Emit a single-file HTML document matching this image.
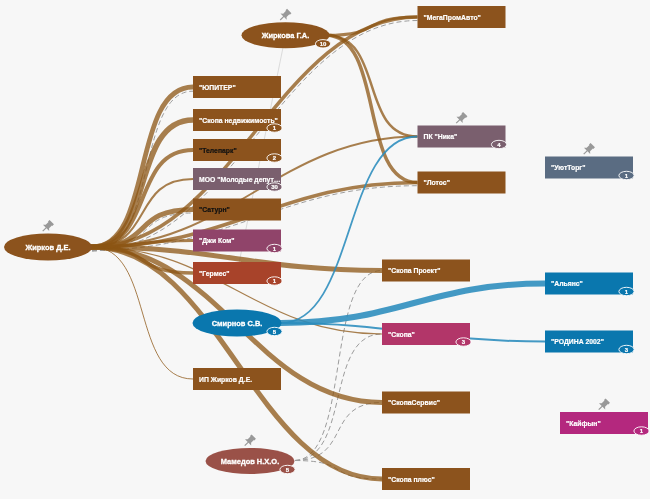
<!DOCTYPE html><html><head><meta charset="utf-8"><style>
html,body{margin:0;padding:0;background:#f7f7f7;width:650px;height:499px;overflow:hidden}
svg{display:block;will-change:transform}
text{font-family:"Liberation Sans", sans-serif;font-weight:bold;fill:#fff;stroke:#fff;stroke-width:0.2px}
</style></head><body>
<svg width="650" height="499" viewBox="0 0 650 499">
<rect width="650" height="499" fill="#f7f7f7"/>
<path d="M285.5 35.3L237 273" stroke="#cfcfcf" stroke-width="0.7" fill="none"/>
<g fill="none" stroke="#9c9c9c" stroke-width="1" stroke-dasharray="5,3">
<path d="M287.00 460.50L294.00 460.50C351.92 460.50 324.08 270.50 382.00 270.50"/>
<path d="M287.00 460.50L294.00 460.50C351.92 460.50 324.08 334.00 382.00 334.00"/>
<path d="M287.00 460.50L294.00 460.50C351.92 460.50 324.08 402.50 382.00 402.50"/>
<path d="M287.00 460.50L294.00 460.50C351.92 460.50 324.08 479.00 382.00 479.00"/>
<path d="M92.01 251.20 L94.57 251.12 L97.08 250.87 L99.51 250.46 L101.86 249.88 L104.14 249.16 L106.34 248.28 L108.46 247.26 L110.49 246.10 L112.44 244.81 L114.31 243.40 L116.10 241.87 L117.81 240.24 L119.45 238.50 L121.01 236.66 L122.50 234.74 L123.93 232.72 L125.30 230.63 L126.61 228.45 L127.86 226.20 L129.07 223.88 L130.23 221.50 L131.34 219.04 L132.41 216.53 L133.44 213.97 L134.43 211.35 L135.39 208.67 L136.32 205.96 L137.22 203.20 L138.10 200.39 L138.95 197.56 L139.77 194.69 L140.58 191.79 L141.37 188.87 L142.14 185.92 L142.90 182.96 L143.65 179.98 L144.39 176.99 L145.13 173.99 L145.86 170.99 L146.58 167.99 L147.31 164.99 L148.03 162.00 L148.76 159.02 L149.50 156.06 L150.24 153.11 L150.99 150.19 L151.75 147.29 L152.52 144.43 L153.31 141.60 L154.11 138.81 L154.94 136.06 L155.78 133.36 L156.65 130.70 L157.53 128.10 L158.45 125.56 L159.39 123.09 L160.36 120.68 L161.35 118.33 L162.38 116.07 L163.44 113.88 L164.53 111.78 L165.66 109.76 L166.82 107.83 L168.02 106.00 L169.25 104.27 L170.51 102.63 L171.82 101.10 L173.16 99.68 L174.53 98.36 L175.95 97.15 L177.41 96.05 L178.91 95.06 L180.45 94.18 L182.05 93.41 L183.70 92.75 L185.41 92.20 L187.19 91.77 L189.04 91.46 L190.98 91.27 L193.01 91.20"/>
<path d="M92.00 250.50 L94.35 250.48 L96.63 250.43 L98.83 250.34 L100.96 250.22 L103.02 250.07 L105.01 249.88 L106.93 249.66 L108.79 249.41 L110.59 249.14 L112.33 248.83 L114.01 248.49 L115.63 248.13 L117.20 247.74 L118.72 247.32 L120.18 246.88 L121.60 246.41 L122.97 245.92 L124.29 245.40 L125.56 244.87 L126.80 244.31 L127.99 243.74 L129.14 243.14 L130.25 242.53 L131.33 241.90 L132.37 241.26 L133.38 240.60 L134.35 239.93 L135.29 239.25 L136.21 238.57 L137.10 237.87 L137.96 237.17 L138.80 236.46 L139.62 235.75 L140.42 235.03 L141.21 234.32 L141.98 233.60 L142.73 232.89 L143.47 232.18 L144.21 231.47 L144.94 230.76 L145.66 230.06 L146.38 229.37 L147.10 228.68 L147.82 228.00 L148.54 227.32 L149.27 226.66 L150.00 226.01 L150.75 225.36 L151.50 224.72 L152.27 224.10 L153.05 223.49 L153.85 222.89 L154.67 222.30 L155.52 221.72 L156.38 221.15 L157.28 220.60 L158.20 220.06 L159.15 219.54 L160.14 219.03 L161.17 218.53 L162.23 218.05 L163.34 217.59 L164.49 217.14 L165.68 216.71 L166.93 216.30 L168.22 215.91 L169.57 215.53 L170.98 215.18 L172.44 214.86 L173.97 214.55 L175.55 214.27 L177.21 214.01 L178.92 213.78 L180.71 213.58 L182.57 213.41 L184.50 213.26 L186.51 213.15 L188.59 213.07 L190.76 213.02 L193.00 213.00"/>
<path d="M92.01 250.50 L97.30 250.39 L102.52 250.06 L107.66 249.53 L112.72 248.78 L117.70 247.84 L122.61 246.71 L127.44 245.38 L132.19 243.88 L136.87 242.19 L141.48 240.34 L146.02 238.32 L150.49 236.15 L154.89 233.82 L159.24 231.35 L163.52 228.73 L167.74 225.99 L171.90 223.11 L176.02 220.11 L180.08 216.99 L184.09 213.76 L188.05 210.43 L191.97 206.99 L195.84 203.46 L199.68 199.85 L203.47 196.14 L207.24 192.36 L210.96 188.51 L214.66 184.58 L218.33 180.60 L221.98 176.56 L225.60 172.46 L229.19 168.33 L232.77 164.15 L236.34 159.93 L239.88 155.69 L243.42 151.42 L246.94 147.13 L250.45 142.83 L253.96 138.52 L257.47 134.21 L260.97 129.90 L264.47 125.59 L267.98 121.30 L271.49 117.03 L275.00 112.79 L278.52 108.57 L282.06 104.39 L285.61 100.25 L289.17 96.15 L292.75 92.10 L296.34 88.12 L299.96 84.19 L303.60 80.33 L307.26 76.54 L310.95 72.83 L314.67 69.21 L318.42 65.67 L322.20 62.22 L326.01 58.88 L329.86 55.64 L333.75 52.51 L337.68 49.49 L341.65 46.60 L345.66 43.83 L349.72 41.19 L353.82 38.68 L357.98 36.31 L362.18 34.09 L366.44 32.02 L370.75 30.11 L375.12 28.35 L379.55 26.76 L384.05 25.33 L388.61 24.08 L393.24 23.01 L397.94 22.12 L402.71 21.42 L407.56 20.91 L412.49 20.60 L417.51 20.50"/>
<path d="M92.00 250.20 L97.20 250.17 L102.31 250.08 L107.34 249.93 L112.29 249.73 L117.17 249.47 L121.98 249.16 L126.71 248.79 L131.37 248.38 L135.96 247.92 L140.49 247.41 L144.95 246.85 L149.35 246.25 L153.70 245.61 L157.98 244.92 L162.21 244.20 L166.38 243.44 L170.50 242.64 L174.58 241.81 L178.60 240.94 L182.58 240.04 L186.52 239.11 L190.41 238.15 L194.27 237.17 L198.08 236.16 L201.87 235.12 L205.62 234.07 L209.34 232.99 L213.02 231.89 L216.69 230.78 L220.32 229.64 L223.94 228.50 L227.53 227.34 L231.11 226.17 L234.67 224.99 L238.21 223.80 L241.75 222.60 L245.27 221.40 L248.78 220.19 L252.29 218.98 L255.79 217.77 L259.30 216.57 L262.80 215.36 L266.31 214.16 L269.82 212.96 L273.33 211.77 L276.86 210.58 L280.39 209.41 L283.94 208.25 L287.51 207.10 L291.09 205.96 L294.70 204.84 L298.32 203.74 L301.97 202.65 L305.64 201.59 L309.35 200.54 L313.08 199.52 L316.84 198.53 L320.65 197.55 L324.48 196.61 L328.36 195.70 L332.28 194.81 L336.24 193.96 L340.25 193.14 L344.30 192.35 L348.41 191.60 L352.57 190.89 L356.78 190.22 L361.05 189.59 L365.38 189.00 L369.77 188.45 L374.22 187.95 L378.74 187.49 L383.32 187.08 L387.98 186.73 L392.70 186.42 L397.51 186.16 L402.38 185.96 L407.34 185.82 L412.38 185.73 L417.50 185.70"/>
</g>
<g fill="none" stroke="#8c5514" stroke-opacity="0.75">
<path d="M85.00 247.00L92.00 247.00C154.34 247.00 130.66 87.00 193.00 87.00" stroke-width="4.8"/>
<path d="M85.00 247.00L92.00 247.00C154.34 247.00 130.66 120.00 193.00 120.00" stroke-width="5.6"/>
<path d="M85.00 247.00L92.00 247.00C154.34 247.00 130.66 150.00 193.00 150.00" stroke-width="4"/>
<path d="M85.00 247.00L92.00 247.00C154.34 247.00 130.66 179.00 193.00 179.00" stroke-width="2"/>
<path d="M85.00 247.00L92.00 247.00C154.34 247.00 130.66 209.50 193.00 209.50" stroke-width="5"/>
<path d="M85.00 247.00L92.00 247.00C154.34 247.00 130.66 240.50 193.00 240.50" stroke-width="3"/>
<path d="M85.00 247.00L92.00 247.00C154.34 247.00 130.66 273.00 193.00 273.00" stroke-width="3.5"/>
<path d="M85.00 247.00L92.00 247.00C154.34 247.00 130.66 379.00 193.00 379.00" stroke-width="1"/>
<path d="M85.00 247.00L92.00 247.00C218.60 247.00 255.40 270.50 382.00 270.50" stroke-width="5"/>
<path d="M85.00 247.00L92.00 247.00C218.60 247.00 255.40 402.50 382.00 402.50" stroke-width="5"/>
<path d="M85.00 247.00L92.00 247.00C218.60 247.00 255.40 479.00 382.00 479.00" stroke-width="5"/>
<path d="M85.00 247.00L92.00 247.00C230.67 247.00 278.83 182.50 417.50 182.50" stroke-width="3.5"/>
<path d="M85.00 247.00L92.00 247.00C230.67 247.00 278.83 17.00 417.50 17.00" stroke-width="3.5"/>
<path d="M85.00 247.00L92.00 247.00C230.67 247.00 278.83 136.50 417.50 136.50" stroke-width="2"/>
<path d="M85.00 247.00L92.00 247.00C218.60 247.00 255.40 334.00 382.00 334.00" stroke-width="1.2"/>
<path d="M319.00 35.30L326.00 35.30C385.11 35.30 358.39 17.00 417.50 17.00" stroke-width="3"/>
<path d="M319.00 35.30L326.00 35.30C385.11 35.30 358.39 136.50 417.50 136.50" stroke-width="2.5"/>
<path d="M319.00 35.30L326.00 35.30C385.11 35.30 358.39 182.50 417.50 182.50" stroke-width="3.5"/>
</g>
<g fill="none" stroke="#2a8cbd" stroke-opacity="0.88">
<path d="M274.00 323.00L281.00 323.00C398.76 323.00 427.24 283.50 545.00 283.50" stroke-width="6"/>
<path d="M274.00 323.00L281.00 323.00C355.41 323.00 343.09 136.50 417.50 136.50" stroke-width="1.8"/>
<path d="M274.00 323.00L281.00 323.00C398.76 323.00 427.24 341.50 545.00 341.50" stroke-width="2"/>
</g>
<ellipse cx="48" cy="247" rx="44" ry="13.5" fill="#8c531d"/>
<text transform="translate(48 249.8) scale(0.97 1)" font-size="7.7" text-anchor="middle" style="stroke-width:0.3px">Жирков Д.Е.</text>
<ellipse cx="285.5" cy="35.3" rx="44" ry="13" fill="#8c531d"/>
<text transform="translate(285.5 38.099999999999994) scale(0.97 1)" font-size="7.7" text-anchor="middle" style="stroke-width:0.3px">Жиркова Г.А.</text>
<ellipse cx="323.0" cy="43.8" rx="7.6" ry="4.2" fill="#8c531d" stroke="#fff" stroke-width="0.9"/><text x="323.0" y="46.0" font-size="6" text-anchor="middle">10</text>
<ellipse cx="237" cy="323" rx="44.5" ry="13.5" fill="#0a77ae"/>
<text transform="translate(237 325.8) scale(0.97 1)" font-size="7.7" text-anchor="middle" style="stroke-width:0.3px">Смирнов С.В.</text>
<ellipse cx="274.5" cy="331.5" rx="7.6" ry="4.2" fill="#0a77ae" stroke="#fff" stroke-width="0.9"/><text x="274.5" y="333.7" font-size="6" text-anchor="middle">5</text>
<ellipse cx="250" cy="461" rx="44.5" ry="13" fill="#9a5148"/>
<text transform="translate(250 463.8) scale(0.97 1)" font-size="7.7" text-anchor="middle" style="stroke-width:0.3px">Мамедов Н.Х.О.</text>
<ellipse cx="287.5" cy="469.5" rx="7.6" ry="4.2" fill="#9a5148" stroke="#fff" stroke-width="0.9"/><text x="287.5" y="471.7" font-size="6" text-anchor="middle">5</text>
<rect x="417.5" y="6" width="88" height="22" fill="#8c531d"/>
<text transform="translate(423.5 19.8) scale(0.97 1)" font-size="7.05">"МегаПромАвто"</text>
<rect x="193" y="76" width="88" height="22" fill="#8c531d"/>
<text transform="translate(199 89.8) scale(0.97 1)" font-size="7.05">"ЮПИТЕР"</text>
<rect x="193" y="109" width="88" height="22" fill="#8c531d"/>
<text transform="translate(199 122.8) scale(0.97 1)" font-size="7.05">"Скопа недвижимость"</text>
<ellipse cx="274.5" cy="128" rx="7.6" ry="4.2" fill="#8c531d" stroke="#fff" stroke-width="0.9"/><text x="274.5" y="130.2" font-size="6" text-anchor="middle">1</text>
<rect x="193" y="139" width="88" height="22" fill="#8c531d"/>
<text transform="translate(199 152.8) scale(0.97 1)" font-size="7.05" style="fill:#111;stroke:#111">"Телепарк"</text>
<ellipse cx="274.5" cy="158" rx="7.6" ry="4.2" fill="#8c531d" stroke="#fff" stroke-width="0.9"/><text x="274.5" y="160.2" font-size="6" text-anchor="middle">2</text>
<rect x="193" y="168" width="88" height="22" fill="#7a5f6e"/>
<text transform="translate(199 181.8) scale(0.97 1)" font-size="7.05">МОО "Молодые депут…</text>
<ellipse cx="274.5" cy="187" rx="7.6" ry="4.2" fill="#7a5f6e" stroke="#fff" stroke-width="0.9"/><text x="274.5" y="189.2" font-size="6" text-anchor="middle">30</text>
<rect x="193" y="198.5" width="88" height="22" fill="#8c531d"/>
<text transform="translate(199 212.3) scale(0.97 1)" font-size="7.05" style="fill:#111;stroke:#111">"Сатурн"</text>
<rect x="193" y="229.5" width="88" height="22" fill="#90446a"/>
<text transform="translate(199 243.3) scale(0.97 1)" font-size="7.05">"Джи Ком"</text>
<ellipse cx="274.5" cy="248.5" rx="7.6" ry="4.2" fill="#90446a" stroke="#fff" stroke-width="0.9"/><text x="274.5" y="250.7" font-size="6" text-anchor="middle">1</text>
<rect x="193" y="262" width="88" height="22" fill="#a8432a"/>
<text transform="translate(199 275.8) scale(0.97 1)" font-size="7.05">"Гермес"</text>
<ellipse cx="274.5" cy="281" rx="7.6" ry="4.2" fill="#a8432a" stroke="#fff" stroke-width="0.9"/><text x="274.5" y="283.2" font-size="6" text-anchor="middle">1</text>
<rect x="193" y="368" width="88" height="22" fill="#8c531d"/>
<text transform="translate(199 381.8) scale(0.97 1)" font-size="7.05">ИП Жирков Д.Е.</text>
<rect x="417.5" y="125.5" width="88" height="22" fill="#7a5f6e"/>
<text transform="translate(423.5 139.3) scale(0.97 1)" font-size="7.05">ПК "Ника"</text>
<ellipse cx="499.0" cy="144.5" rx="7.6" ry="4.2" fill="#7a5f6e" stroke="#fff" stroke-width="0.9"/><text x="499.0" y="146.7" font-size="6" text-anchor="middle">4</text>
<rect x="417.5" y="171.5" width="88" height="22" fill="#8c531d"/>
<text transform="translate(423.5 185.3) scale(0.97 1)" font-size="7.05">"Лотос"</text>
<rect x="545" y="156.5" width="88" height="22" fill="#5a6c82"/>
<text transform="translate(551 170.3) scale(0.97 1)" font-size="7.05">"УютТорг"</text>
<ellipse cx="626.5" cy="175.5" rx="7.6" ry="4.2" fill="#5a6c82" stroke="#fff" stroke-width="0.9"/><text x="626.5" y="177.7" font-size="6" text-anchor="middle">1</text>
<rect x="382" y="259.5" width="88" height="22" fill="#8c531d"/>
<text transform="translate(388 273.3) scale(0.97 1)" font-size="7.05">"Скопа Проект"</text>
<rect x="545" y="272.5" width="88" height="22" fill="#0a77ae"/>
<text transform="translate(551 286.3) scale(0.97 1)" font-size="7.05">"Альянс"</text>
<ellipse cx="626.5" cy="291.5" rx="7.6" ry="4.2" fill="#0a77ae" stroke="#fff" stroke-width="0.9"/><text x="626.5" y="293.7" font-size="6" text-anchor="middle">1</text>
<rect x="382" y="323" width="88" height="22" fill="#b23669"/>
<text transform="translate(388 336.8) scale(0.97 1)" font-size="7.05">"Скопа"</text>
<ellipse cx="463.5" cy="342" rx="7.6" ry="4.2" fill="#b23669" stroke="#fff" stroke-width="0.9"/><text x="463.5" y="344.2" font-size="6" text-anchor="middle">3</text>
<rect x="545" y="330.5" width="88" height="22" fill="#0a77ae"/>
<text transform="translate(551 344.3) scale(0.97 1)" font-size="7.05">"РОДИНА 2002"</text>
<ellipse cx="626.5" cy="349.5" rx="7.6" ry="4.2" fill="#0a77ae" stroke="#fff" stroke-width="0.9"/><text x="626.5" y="351.7" font-size="6" text-anchor="middle">3</text>
<rect x="382" y="391.5" width="88" height="22" fill="#8c531d"/>
<text transform="translate(388 405.3) scale(0.97 1)" font-size="7.05">"СкопаСервис"</text>
<rect x="560" y="412" width="88" height="22" fill="#b4287e"/>
<text transform="translate(566 425.8) scale(0.97 1)" font-size="7.05">"Кайфын"</text>
<ellipse cx="641.5" cy="431" rx="7.6" ry="4.2" fill="#b4287e" stroke="#fff" stroke-width="0.9"/><text x="641.5" y="433.2" font-size="6" text-anchor="middle">1</text>
<rect x="382" y="468" width="88" height="22" fill="#8c531d"/>
<text transform="translate(388 481.8) scale(0.97 1)" font-size="7.05">"Скопа плюс"</text>
<g transform="translate(42.7 231.2) rotate(-45)" fill="#999"><path d="M0 -0.6L4.8 -0.6L4.8 -4.4L6.6 -2.4L10.6 -2.4L10.6 -3.1L12.8 -3.1L12.8 3.1L10.6 3.1L10.6 2.4L6.6 2.4L4.8 4.4L4.8 0.6L0 0.6Z"/></g>
<g transform="translate(280.2 20.0) rotate(-45)" fill="#999"><path d="M0 -0.6L4.8 -0.6L4.8 -4.4L6.6 -2.4L10.6 -2.4L10.6 -3.1L12.8 -3.1L12.8 3.1L10.6 3.1L10.6 2.4L6.6 2.4L4.8 4.4L4.8 0.6L0 0.6Z"/></g>
<g transform="translate(456.2 123.2) rotate(-45)" fill="#999"><path d="M0 -0.6L4.8 -0.6L4.8 -4.4L6.6 -2.4L10.6 -2.4L10.6 -3.1L12.8 -3.1L12.8 3.1L10.6 3.1L10.6 2.4L6.6 2.4L4.8 4.4L4.8 0.6L0 0.6Z"/></g>
<g transform="translate(583.7 154.2) rotate(-45)" fill="#999"><path d="M0 -0.6L4.8 -0.6L4.8 -4.4L6.6 -2.4L10.6 -2.4L10.6 -3.1L12.8 -3.1L12.8 3.1L10.6 3.1L10.6 2.4L6.6 2.4L4.8 4.4L4.8 0.6L0 0.6Z"/></g>
<g transform="translate(598.7 409.7) rotate(-45)" fill="#999"><path d="M0 -0.6L4.8 -0.6L4.8 -4.4L6.6 -2.4L10.6 -2.4L10.6 -3.1L12.8 -3.1L12.8 3.1L10.6 3.1L10.6 2.4L6.6 2.4L4.8 4.4L4.8 0.6L0 0.6Z"/></g>
<g transform="translate(244.7 445.7) rotate(-45)" fill="#999"><path d="M0 -0.6L4.8 -0.6L4.8 -4.4L6.6 -2.4L10.6 -2.4L10.6 -3.1L12.8 -3.1L12.8 3.1L10.6 3.1L10.6 2.4L6.6 2.4L4.8 4.4L4.8 0.6L0 0.6Z"/></g>
</svg></body></html>
